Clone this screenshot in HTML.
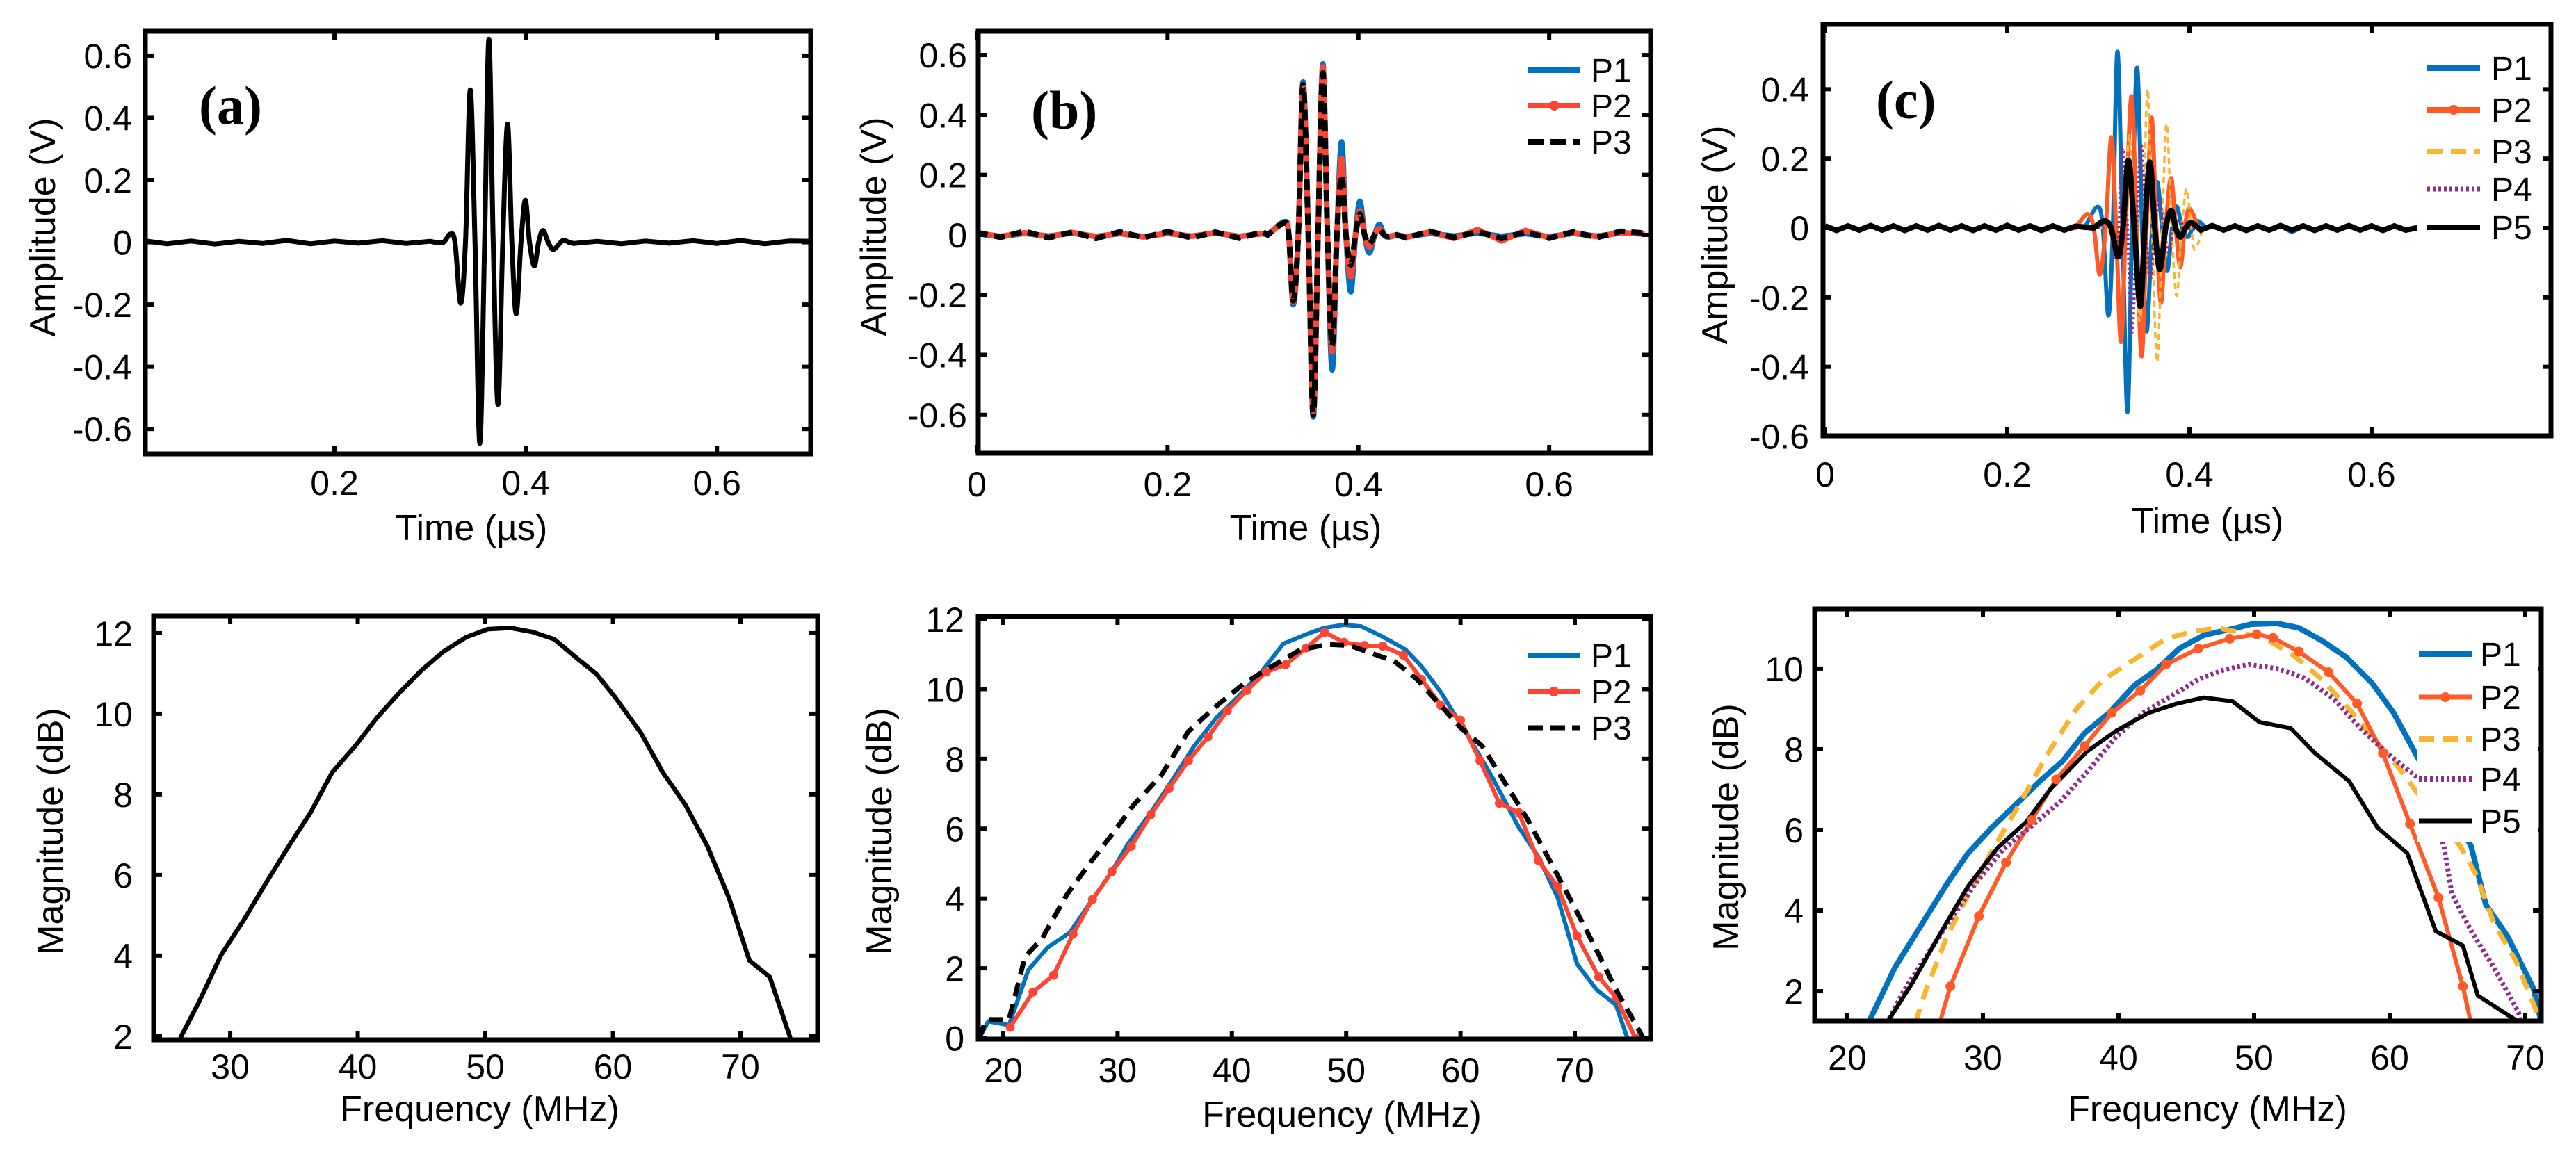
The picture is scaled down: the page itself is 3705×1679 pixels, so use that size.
<!DOCTYPE html>
<html><head><meta charset="utf-8"><style>
html,body{margin:0;padding:0;background:#fff;}
svg{display:block;font-family:"Liberation Sans",Arial,sans-serif;}
</style></head><body>
<svg id="fig" width="3705" height="1679" viewBox="0 0 3705 1679" xmlns="http://www.w3.org/2000/svg">
<rect width="3705" height="1679" fill="#fff"/>
</svg>
<script>
// ---------- data: panel (a) time signal ----------
const noiseT = [0,0.025,0.05,0.075,0.1,0.125,0.15,0.175,0.2,0.225,0.25,0.275,0.3,0.325,0.35,0.375,0.4,0.425,0.45,0.475,0.5,0.525,0.55,0.575,0.6,0.625,0.65,0.675,0.7];
const aNoise = [0.005,-0.005,0.004,-0.006,0.003,-0.004,0.006,-0.005,0.004,-0.003,0.005,-0.004,0.003,0,0,0,0,0,-0.004,0.003,-0.005,0.004,-0.003,0.005,-0.004,0.006,-0.005,0.004,0.003];
const aPulseT = [0.305,0.314,0.321,0.326,0.332,0.337,0.342,0.347,0.352,0.357,0.3615,0.366,0.371,0.376,0.381,0.3855,0.39,0.395,0.3996,0.404,0.409,0.4135,0.418,0.4235,0.429,0.4385,0.445];
const aPulseV = [0,0,0.026,0,-0.196,0,0.49,0,-0.646,0,0.653,0,-0.521,0,0.38,0,-0.23,0,0.135,0,-0.076,0,0.038,0,-0.023,0.005,0];
// ---------- panel (b) time signals ----------
const bP1Noise = [0.004,-0.006,0.005,-0.004,0.006,-0.005,0.004,-0.006,0.005,-0.004,0.006,-0.005,0.004,0,0,0,0,0,-0.006,0.005,-0.004,0.006,-0.005,0.004,-0.006,0.005,-0.004,0.006,0.003];
const bP2Noise = [0.006,-0.005,0.007,-0.006,0.008,-0.006,0.005,-0.007,0.006,-0.005,0.007,-0.006,0.005,0,0,0,0,0,-0.008,0.01,-0.012,0.018,-0.02,0.015,-0.01,0.008,-0.006,0.007,0.004];
const bP3Noise = [0.008,-0.008,0.012,-0.01,0.009,-0.012,0.01,-0.009,0.011,-0.01,0.009,-0.011,0.01,0,0,0,0,0,-0.01,0.012,-0.009,0.01,-0.012,0.009,-0.011,0.01,-0.009,0.012,0.006];
const bPulseT = [0.305,0.3225,0.327,0.3317,0.337,0.342,0.3475,0.3527,0.3577,0.3627,0.3676,0.3725,0.3775,0.3824,0.387,0.392,0.397,0.4016,0.4065,0.4115,0.417,0.422,0.427,0.4315,0.44];
const bP1V = [0,0.044,0,-0.233,0,0.51,0,-0.607,0,0.57,0,-0.45,0,0.31,0,-0.19,0,0.112,0,-0.06,0,0.035,0,-0.007,0];
const bP2V = [0,0.04,0,-0.225,0,0.5,0,-0.59,0,0.56,0,-0.39,0,0.255,0,-0.14,0,0.08,0,-0.04,0,0.02,0,-0.005,0];
const bP3V = [0,0.04,0,-0.22,0,0.5,0,-0.6,0,0.54,0,-0.37,0,0.2,0,-0.1,0,0.07,0,-0.03,0,0.015,0,-0.005,0];
// ---------- panel (c) time signals ----------
const cNoiseT = [0,0.0125,0.025,0.0375,0.05,0.0625,0.075,0.0875,0.1,0.1125,0.125,0.1375,0.15,0.1625,0.175,0.1875,0.2,0.2125,0.225,0.2375,0.25,0.2625,0.275,0.4125,0.425,0.4375,0.45,0.4625,0.475,0.4875,0.5,0.5125,0.525,0.5375,0.55,0.5625,0.575,0.5875,0.6,0.6125,0.625,0.6375,0.65];
const cP1Noise = [0.004,-0.005,0.004,-0.003,0.005,-0.004,0.003,-0.005,0.004,-0.003,0.005,-0.004,0.003,-0.005,0.004,-0.003,0.005,-0.004,0.003,-0.005,0.004,-0.003,0.004,-0.004,0.005,-0.003,0.004,-0.005,0.003,-0.004,0.005,-0.012,0.004,-0.003,0.005,-0.004,0.003,-0.005,0.004,-0.003,0.005,-0.004,0.003];
const cP2Noise = [0.005,-0.004,0.006,-0.005,0.004,-0.006,0.005,-0.004,0.006,-0.005,0.004,-0.006,0.005,-0.004,0.006,-0.005,0.01,-0.005,0.004,-0.006,0.005,-0.004,0.006,-0.005,0.004,-0.006,0.005,-0.004,0.006,-0.005,0.004,-0.006,0.005,-0.004,0.006,-0.005,0.004,-0.006,0.005,-0.004,0.006,-0.005,0.004];
const cP3Noise = [0.003,-0.004,0.005,-0.003,0.004,-0.005,0.003,-0.004,0.005,-0.003,0.004,-0.005,0.003,-0.004,0.005,-0.003,0.004,-0.005,0.003,-0.004,0.005,-0.003,0.004,-0.005,0.003,-0.004,0.005,-0.003,0.004,-0.005,0.003,-0.004,0.005,-0.003,0.004,-0.005,0.003,-0.004,0.005,-0.003,0.004,-0.005,0.003];
const cP4Noise = [0.003,-0.003,0.004,-0.003,0.003,-0.004,0.003,-0.003,0.004,-0.003,0.003,-0.004,0.003,-0.003,0.004,-0.003,0.003,-0.004,0.003,-0.003,0.004,-0.003,0.003,-0.004,0.003,-0.003,0.004,-0.003,0.003,-0.004,0.003,-0.003,0.004,-0.003,0.003,-0.004,0.003,-0.003,0.004,-0.003,0.003,-0.004,0.003];
const cP5Noise = [0.006,-0.007,0.006,-0.006,0.007,-0.006,0.006,-0.007,0.006,-0.006,0.007,-0.006,0.006,-0.007,0.006,-0.006,0.007,-0.006,0.006,-0.007,0.006,-0.006,0.005,-0.006,0.007,-0.006,0.006,-0.007,0.006,-0.006,0.007,-0.006,0.006,-0.007,0.006,-0.006,0.007,-0.006,0.006,-0.007,0.006,-0.006,0];
const cP1T = [0.285,0.299,0.305,0.311,0.316,0.321,0.3265,0.332,0.337,0.3425,0.348,0.353,0.359,0.3645,0.37,0.3755,0.381,0.386,0.392,0.398,0.4035,0.409,0.418];
const cP1V = [0,0.061,0,-0.252,0,0.508,0,-0.53,0,0.462,0,-0.298,0,0.133,0,-0.124,0,0.062,0,-0.026,0,0.02,0];
const cP2T = [0.275,0.288,0.295,0.3015,0.308,0.3143,0.3195,0.3248,0.33,0.3364,0.342,0.3475,0.353,0.3585,0.3637,0.3688,0.374,0.3798,0.385,0.39,0.395,0.4,0.41];
const cP2V = [0,0.04,0,-0.134,0,0.262,0,-0.329,0,0.38,0,-0.37,0,0.318,0,-0.216,0,0.144,0,-0.113,0,0.056,0];
const cP3T = [0.31,0.322,0.328,0.334,0.3395,0.345,0.3495,0.354,0.359,0.3645,0.37,0.375,0.3805,0.386,0.3915,0.397,0.402,0.406,0.415];
const cP3V = [0,-0.05,0,0.267,0,-0.268,0,0.4,0,-0.386,0,0.3,0,-0.196,0,0.113,0,-0.062,0];
const cP4T = [0.305,0.313,0.318,0.3225,0.327,0.332,0.337,0.342,0.347,0.352,0.357,0.362,0.367,0.372,0.377,0.382,0.388,0.395];
const cP4V = [0,0,-0.09,0,0.23,0,-0.3,0,0.24,0,-0.15,0,0.08,0,-0.07,0,0.02,0];
const cP5T = [0.295,0.3065,0.314,0.3218,0.327,0.333,0.3395,0.346,0.351,0.3566,0.362,0.3675,0.374,0.38,0.385,0.39,0.396,0.4016,0.41];
const cP5V = [0,0.02,0,-0.083,0,0.195,0,-0.226,0,0.19,0,-0.119,0,0.051,0,-0.026,0,0.015,0];
// ---------- bottom (a) spectrum ----------
const dF = [26.1,27.6,29.3,31.1,32.8,34.6,36.3,38.0,39.8,41.5,43.2,45.0,46.7,48.5,50.2,52.0,53.7,55.4,57.1,58.7,60.2,62.2,63.9,65.7,67.4,69.1,70.7,72.3,73.9];
const dV = [1.96,2.88,4.02,4.9,5.8,6.72,7.55,8.55,9.2,9.9,10.5,11.08,11.54,11.9,12.1,12.13,12.03,11.85,11.4,10.99,10.4,9.52,8.55,7.73,6.72,5.43,3.88,3.47,1.96];
// ---------- bottom (b) spectra ----------
const eP1F = [17.9,18.7,20.5,22.2,23.9,25.8,27.8,29.5,30.9,32.9,34.8,36.7,38.7,40.6,42.6,44.5,46.5,48.1,49.8,51.3,53.2,55.2,56.6,58.3,60.5,62.7,65.1,66.8,68.5,70.2,71.9,73.6,74.6];
const eP1V = [0,0.48,0.37,1.96,2.6,3.02,3.97,4.77,5.56,6.46,7.4,8.37,9.2,9.8,10.5,11.3,11.57,11.76,11.84,11.8,11.5,11.13,10.65,9.9,8.74,7.52,6.04,5.2,4.03,2.12,1.39,0.95,0];
const eP2F = [20.6,22.6,24.4,26.1,27.8,29.5,31.2,32.9,34.5,36.2,37.9,39.6,41.3,43.0,44.7,46.5,48.1,49.8,51.6,53.2,55.0,56.6,58.3,60.0,61.7,63.4,65.1,66.8,68.5,70.2,72.1,73.6,75.3];
const eP2V = [0.31,1.32,1.8,2.98,3.97,4.77,5.5,6.4,7.15,7.95,8.63,9.38,9.96,10.49,10.7,11.18,11.63,11.34,11.25,11.23,10.97,10.28,9.53,9.11,7.95,6.73,6.46,5.09,4.34,2.92,1.75,1.17,0];
const eP3F = [17.9,18.5,20.5,21.9,23.4,25.6,27.5,29.5,31.4,33.8,36.2,38.7,41.1,43.5,46.0,48.4,50.3,52.3,54.2,56.2,58.1,60.0,61.9,63.9,65.9,67.8,69.7,71.7,73.6,76.0];
const eP3V = [0,0.53,0.53,2.33,2.86,4.13,4.98,5.83,6.68,7.52,8.79,9.53,10.17,10.65,11.13,11.28,11.25,11.02,10.8,10.28,9.59,8.9,8.37,7.31,6.25,5.09,3.92,2.65,1.39,0];
// ---------- bottom (c) spectra ----------
const fP1F = [21.6,23.5,25.6,27.4,28.9,30.7,32.8,34.2,35.9,37.5,39.3,41.2,42.8,44.5,46.3,48.2,49.8,51.7,53.3,55.0,56.8,58.7,60.3,62.2,64.0,66.0,67.1,68.7,70.6,71.2];
const fP1V = [1.25,2.58,3.72,4.69,5.42,6.07,6.75,7.21,7.71,8.4,8.9,9.59,9.97,10.5,10.83,10.97,11.1,11.12,11.01,10.69,10.28,9.64,8.9,7.71,6.8,5.6,4.14,3.36,2.07,1.2];
const fP2F = [26.8,27.6,29.7,31.7,33.6,35.4,37.5,39.5,41.6,43.5,45.9,48.2,50.2,51.4,53.3,55.5,57.6,59.5,61.5,63.6,65.4,66.0];
const fP2V = [1.2,2.12,3.86,5.19,6.24,7.25,8.08,8.9,9.45,10.1,10.5,10.74,10.85,10.76,10.42,9.91,9.13,7.9,6.15,4.32,2.12,1.2];
const fP3F = [25.0,25.8,27.4,29.1,30.7,32.8,34.8,36.9,38.9,41.0,43.5,45.5,47.3,49.2,50.8,52.9,55.0,57.0,59.1,60.7,62.2,63.8,65.2,66.4,67.7,69.3,71.2];
const fP3V = [1.2,2.03,3.4,4.5,5.5,6.7,7.9,9.0,9.73,10.19,10.74,10.92,11.01,10.88,10.74,10.33,9.73,9.0,8.17,7.53,6.84,6.2,5.6,4.87,3.68,2.76,1.2];
const fP4F = [22.9,24.2,25.8,27.4,29.5,31.5,33.6,35.7,37.7,39.8,41.8,43.9,45.9,47.7,49.6,51.7,53.7,55.8,57.8,59.8,62.2,64.0,64.6,66.0,67.7,69.5,69.7];
const fP4V = [1.2,2.03,2.85,3.68,4.69,5.52,6.1,6.7,7.44,8.3,8.9,9.32,9.73,9.96,10.1,10.0,9.77,9.27,8.54,7.9,7.26,5.6,4.4,3.5,2.58,1.48,1.2];
const fP5F = [22.9,24.8,26.8,28.9,31.1,33.2,35.0,37.7,39.8,42.2,44.3,46.3,48.4,50.4,52.7,54.5,57.0,59.1,61.3,63.4,65.4,66.5,69.7];
const fP5V = [1.2,2.21,3.4,4.6,5.56,6.2,7.02,7.95,8.45,8.9,9.13,9.28,9.19,8.67,8.52,7.9,7.21,6.06,5.42,3.49,3.13,1.89,1.2];
// ---------- ticks ----------
const tTicksA = [0.2,0.4,0.6];
const tTicksBC = [0,0.2,0.4,0.6];
const ampTicksAB = [-0.6,-0.4,-0.2,0,0.2,0.4,0.6];
const ampTicksC = [-0.6,-0.4,-0.2,0,0.2,0.4];
const fTicksA = [30,40,50,60,70];
const fTicksBC = [20,30,40,50,60,70];
const magTicksA = [2,4,6,8,10,12];
const magTicksB = [0,2,4,6,8,10,12];
const magTicksC = [2,4,6,8,10];

const NS='http://www.w3.org/2000/svg';
const svg=document.getElementById('fig');
function mk(tag,attrs,parent){const e=document.createElementNS(NS,tag);for(const k in attrs)e.setAttribute(k,attrs[k]);(parent||svg).appendChild(e);return e;}
function fmt(v){return (Math.round(v*10)/10).toString();}
let clipId=0;

function makePanel(c){
  const g=mk('g',{});
  
  
  const [x0,y0,x1,y1]=c.box;
  const sx=v=>x0+(v-c.xd[0])/(c.xd[1]-c.xd[0])*(x1-x0);
  const sy=v=>y1-(v-c.yd[0])/(c.yd[1]-c.yd[0])*(y1-y0);
  const id='clip'+(clipId++);
  const cp=mk('clipPath',{id:id},g);
  mk('rect',{x:x0,y:y0,width:x1-x0,height:y1-y0},cp);
  const plot=mk('g',{'clip-path':'url(#'+id+')'},g);
  
  
  c.xt.forEach(v=>{
    const X=sx(v);
    const t1=mk('line',{x1:X,x2:X,y1:y1,y2:y1-12,stroke:'#000','stroke-width':6},g);
    
    
    const t2=mk('line',{x1:X,x2:X,y1:y0,y2:y0+12,stroke:'#000','stroke-width':6},g);
    
    
    const lb=mk('text',{x:X,y:y1+c.xlOff,'text-anchor':'middle','font-size':50},g);
    lb.textContent=fmt(v);
    
    
  });
  c.yt.forEach(v=>{
    const Y=sy(v);
    const t1=mk('line',{x1:x0,x2:x0+12,y1:Y,y2:Y,stroke:'#000','stroke-width':6},g);
    
    
    const t2=mk('line',{x1:x1,x2:x1-12,y1:Y,y2:Y,stroke:'#000','stroke-width':6},g);
    
    
    const lb=mk('text',{x:c.ylX,y:Y+18,'text-anchor':'end','font-size':50},g);
    lb.textContent=fmt(v);
    
    
  });
  const xt=mk('text',{x:c.xtitle[0],y:c.xtitle[1],'text-anchor':'middle','font-size':52},g);
  xt.textContent=c.xlabel;
  
  
  const yt=mk('text',{x:0,y:0,'text-anchor':'middle','font-size':52,transform:'translate('+c.ytitle[0]+','+c.ytitle[1]+') rotate(-90) translate(0,18)'},g);
  yt.textContent=c.ylabel;
  
  
  return {g,plot,sx,sy,box:c.box};
}
function drawFrame(P){
  const [x0,y0,x1,y1]=P.box;
  const r=mk('rect',{x:x0,y:y0,width:x1-x0,height:y1-y0,fill:'none',stroke:'#000','stroke-width':7},P.g);
  
  
}
function smoothPath(pts){
  let d='M'+pts[0][0].toFixed(1)+','+pts[0][1].toFixed(1);
  for(let i=0;i<pts.length-1;i++){
    const p0=pts[Math.max(0,i-1)],p1=pts[i],p2=pts[i+1],p3=pts[Math.min(pts.length-1,i+2)];
    const c1=[p1[0]+(p2[0]-p0[0])/6,p1[1]+(p2[1]-p0[1])/6];
    const c2=[p2[0]-(p3[0]-p1[0])/6,p2[1]-(p3[1]-p1[1])/6];
    d+='C'+c1[0].toFixed(1)+','+c1[1].toFixed(1)+' '+c2[0].toFixed(1)+','+c2[1].toFixed(1)+' '+p2[0].toFixed(1)+','+p2[1].toFixed(1);
  }
  return d;
}
// noise segments drawn as straight polylines (jagged), pulse smoothed
function wavePath(P,nT,nV,pT,pV){
  const pre=[],post=[];
  nT.forEach((t,i)=>{if(t<pT[0])pre.push([P.sx(t),P.sy(nV[i])]);else if(t>pT[pT.length-1])post.push([P.sx(t),P.sy(nV[i])]);});
  const pulse=pT.map((t,i)=>[P.sx(t),P.sy(pV[i])]);
  let d='';
  if(pre.length){d+='M'+pre.map(p=>p[0].toFixed(1)+','+p[1].toFixed(1)).join('L')+'L'+pulse[0][0].toFixed(1)+','+pulse[0][1].toFixed(1);}
  const sp=smoothPath(pulse);
  d+= pre.length ? sp.replace(/^M[^C]*/,'') : sp;
  if(post.length){d+='L'+post.map(p=>p[0].toFixed(1)+','+p[1].toFixed(1)).join('L');}
  return d;
}
function linePts(P,F,V){return F.map((f,i)=>[P.sx(f),P.sy(V[i])]);}
function poly(pts){return 'M'+pts.map(p=>p[0].toFixed(1)+','+p[1].toFixed(1)).join('L');}

const BLUE='#0072BD',RED='#FF4433',ORANGE='#FF5A28',YEL='#FBB430',PURP='#8E2C8E';

// ===== Panel (a) top =====
const A=makePanel({name:'panel-a-time',box:[209,45,1166,653],xd:[0.0022,0.698],yd:[-0.680,0.678],xt:tTicksA,yt:ampTicksAB,xlOff:59,ylX:190,xlabel:'Time (µs)',ylabel:'Amplitude (V)',xtitle:[678,777],ytitle:[61,327]});
let p=mk('path',{d:wavePath(A,noiseT,aNoise,aPulseT,aPulseV),fill:'none',stroke:'#000','stroke-width':7,'stroke-linejoin':'round'},A.plot);


drawFrame(A);
let lab=mk('text',{x:286,y:178,'font-size':78,'font-weight':'bold','font-family':'Liberation Serif, serif'},A.g);
lab.textContent='(a)';



// ===== Panel (b) top =====
const B=makePanel({name:'panel-b-time',box:[1407,45,2374,652],xd:[0.0015,0.7063],yd:[-0.728,0.679],xt:tTicksBC,yt:ampTicksAB,xlOff:62,ylX:1391,xlabel:'Time (µs)',ylabel:'Amplitude (V)',xtitle:[1878,777],ytitle:[1256,326]});
p=mk('path',{d:wavePath(B,noiseT,bP1Noise,bPulseT,bP1V),fill:'none',stroke:BLUE,'stroke-width':8},B.plot);


p=mk('path',{d:wavePath(B,noiseT,bP2Noise,bPulseT,bP2V),fill:'none',stroke:RED,'stroke-width':8},B.plot);


p=mk('path',{d:wavePath(B,noiseT,bP3Noise,bPulseT,bP3V),fill:'none',stroke:'#000','stroke-width':8,'stroke-dasharray':'16 9'},B.plot);


drawFrame(B);
lab=mk('text',{x:1483,y:185,'font-size':78,'font-weight':'bold','font-family':'Liberation Serif, serif'},B.g);
lab.textContent='(b)';



// ===== Panel (c) top =====
const C=makePanel({name:'panel-c-time',box:[2622,35,3669,627],xd:[-0.0023,0.797],yd:[-0.599,0.587],xt:tTicksBC,yt:ampTicksC,xlOff:73,ylX:2602,xlabel:'Time (µs)',ylabel:'Amplitude (V)',xtitle:[3175,767],ytitle:[2466,338]});
const cSeries=[[cP1Noise,cP1T,cP1V,BLUE,6,null,'p1-line'],[cP2Noise,cP2T,cP2V,ORANGE,6,null,'p2-line'],[cP3Noise,cP3T,cP3V,YEL,3.5,'9 6','p3-line'],[cP4Noise,cP4T,cP4V,PURP,4.5,'3 4','p4-line'],[cP5Noise,cP5T,cP5V,'#000',8,null,'p5-line']];
cSeries.forEach(s=>{
  const a={d:wavePath(C,cNoiseT,s[0],s[1],s[2]),fill:'none',stroke:s[3],'stroke-width':s[4]};
  if(s[5])a['stroke-dasharray']=s[5];
  const e=mk('path',a,C.plot);
  
  
});
drawFrame(C);
lab=mk('text',{x:2698,y:170,'font-size':78,'font-weight':'bold','font-family':'Liberation Serif, serif'},C.g);
lab.textContent='(c)';



// ===== Bottom (a) =====
const D=makePanel({name:'panel-a-spectrum',box:[221,886,1176,1496],xd:[24.0,76.05],yd:[1.91,12.43],xt:fTicksA,yt:magTicksA,xlOff:56,ylX:191,xlabel:'Frequency (MHz)',ylabel:'Magnitude  (dB)',xtitle:[690,1613],ytitle:[72,1196]});
p=mk('path',{d:poly(linePts(D,dF,dV)),fill:'none',stroke:'#000','stroke-width':6.5,'stroke-linejoin':'round'},D.plot);


drawFrame(D);

// ===== Bottom (b) =====
const E=makePanel({name:'panel-b-spectrum',box:[1407,887,2374,1495],xd:[17.81,76.63],yd:[-0.03,12.08],xt:fTicksBC,yt:magTicksB,xlOff:62,ylX:1387,xlabel:'Frequency (MHz)',ylabel:'Magnitude  (dB)',xtitle:[1930,1621],ytitle:[1264,1196]});
p=mk('path',{d:poly(linePts(E,eP1F,eP1V)),fill:'none',stroke:BLUE,'stroke-width':6,'stroke-linejoin':'round'},E.plot);


p=mk('path',{d:poly(linePts(E,eP2F,eP2V)),fill:'none',stroke:RED,'stroke-width':6,'stroke-linejoin':'round'},E.plot);


linePts(E,eP2F,eP2V).forEach(q=>{
  const m=mk('circle',{cx:q[0],cy:q[1],r:6.5,fill:RED},E.plot);
  
  
});
p=mk('path',{d:poly(linePts(E,eP3F,eP3V)),fill:'none',stroke:'#000','stroke-width':7,'stroke-dasharray':'20 12'},E.plot);


drawFrame(E);

// ===== Bottom (c) =====
const F=makePanel({name:'panel-c-spectrum',box:[2610,876,3655,1469],xd:[17.59,71.18],yd:[1.26,11.48],xt:fTicksBC,yt:magTicksC,xlOff:70,ylX:2594,xlabel:'Frequency (MHz)',ylabel:'Magnitude  (dB)',xtitle:[3175,1613],ytitle:[2482,1190]});
const fSeries=[[fP1F,fP1V,BLUE,8,null,'p1-spectrum'],[fP3F,fP3V,YEL,7,'22 14','p3-spectrum'],[fP2F,fP2V,ORANGE,6,null,'p2-spectrum'],[fP4F,fP4V,PURP,7,'4 4','p4-spectrum'],[fP5F,fP5V,'#000',6,null,'p5-spectrum']];
fSeries.forEach(s=>{
  const a={d:poly(linePts(F,s[0],s[1])),fill:'none',stroke:s[2],'stroke-width':s[3],'stroke-linejoin':'round'};
  if(s[4])a['stroke-dasharray']=s[4];
  const e=mk('path',a,F.plot);
  
  
});
linePts(F,fP2F,fP2V).slice(1,-1).forEach(q=>{
  const m=mk('circle',{cx:q[0],cy:q[1],r:7,fill:ORANGE},F.plot);
  
  
});
drawFrame(F);

// ===== Legends =====
function legend(parent,name,lx,tx,rows,bg){
  const g=mk('g',{},parent);
  
  
  if(bg){const r=mk('rect',{x:bg[0],y:bg[1],width:bg[2],height:bg[3],fill:'#fff'},g);
    
    }
  rows.forEach(r=>{
    const a={x1:lx[0],x2:lx[1],y1:r.y,y2:r.y,stroke:r.c,'stroke-width':r.w};
    if(r.dash)a['stroke-dasharray']=r.dash;
    const l=mk('line',a,g);
    
    
    if(r.m){const m=mk('circle',{cx:(lx[0]+lx[1])/2,cy:r.y,r:7,fill:r.c},g);
      
      }
    const t=mk('text',{x:tx,y:r.y+17,'font-size':48},g);
    t.textContent=r.t;
    
    
  });
}
legend(B.g,'legend-b-time',[2198,2273],2288,[{y:101,c:BLUE,w:8,t:'P1'},{y:152,c:RED,w:8,t:'P2',m:1},{y:204,c:'#000',w:8,dash:'22 10',t:'P3'}]);
legend(C.g,'legend-c-time',[3491,3567],3583,[{y:98,c:BLUE,w:8,t:'P1'},{y:158,c:ORANGE,w:8,t:'P2',m:1},{y:218,c:YEL,w:8,dash:'22 12',t:'P3'},{y:272,c:PURP,w:7,dash:'4 4',t:'P4'},{y:327,c:'#000',w:8,t:'P5'}]);
legend(E.g,'legend-b-spectrum',[2197,2273],2288,[{y:943,c:BLUE,w:7,t:'P1'},{y:995,c:RED,w:7,t:'P2',m:1},{y:1047,c:'#000',w:7,dash:'22 10',t:'P3'}]);
legend(F.g,'legend-c-spectrum',[3479,3555],3567,[{y:941,c:BLUE,w:8,t:'P1'},{y:1003,c:ORANGE,w:7,t:'P2',m:1},{y:1063,c:YEL,w:8,dash:'22 12',t:'P3'},{y:1121,c:PURP,w:8,dash:'4 4',t:'P4'},{y:1181,c:'#000',w:7,t:'P5'}],[3476,915,175,297]);
</script>
</body></html>
